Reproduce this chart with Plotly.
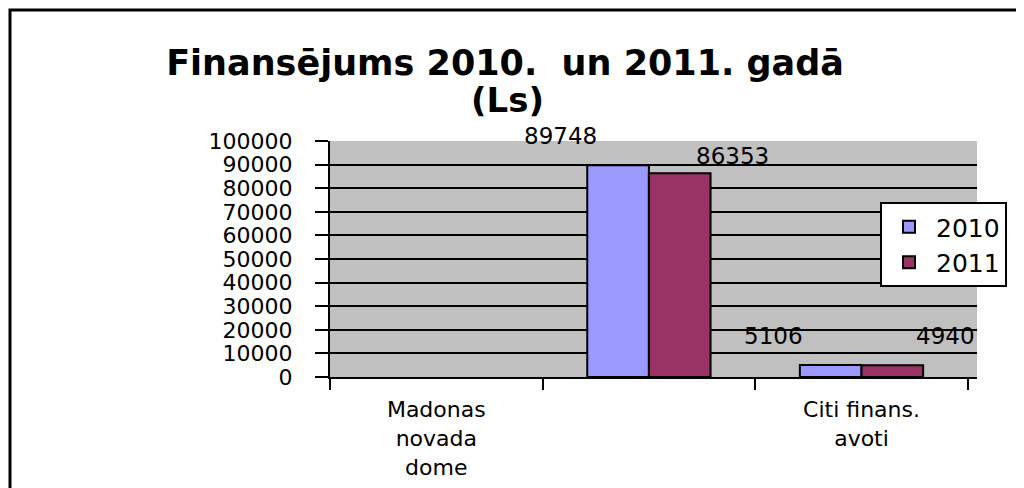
import plotly.graph_objects as go

# ---- data ----
categories = ["Madonas novada dome", " ", "Citi finans. avoti"]
tick_labels = ["Madonas<br>novada<br>dome", "", "Citi finans.<br>avoti"]
series_names = ["2010", "2011"]
values_2010 = [None, 89748, 5106]
values_2011 = [None, 86353, 4940]
y_ticks = [0, 10000, 20000, 30000, 40000, 50000, 60000, 70000, 80000, 90000, 100000]
title_line1 = "Finansējums 2010.  un 2011. gadā"
title_line2 = "(Ls)"

# ---- style ----
colors = ["#9999FF", "#993366"]
label_xshift = [-88, 84]
label_yshift = [[0, 14, 14], [0, 2, 14]]
FONT = "DejaVu Sans"

fig = go.Figure()
for i, (name, vals) in enumerate(zip(series_names, [values_2010, values_2011])):
    fig.add_trace(go.Bar(
        x=categories, y=vals, name=name, legendgroup=name,
        marker=dict(color=colors[i], line=dict(color="black", width=2)),
    ))

annotations = []
for i, vals in enumerate([values_2010, values_2011]):
    for j, (c, v) in enumerate(zip(categories, vals)):
        if v is None:
            continue
        annotations.append(dict(
            x=c, y=v, xref="x", yref="y", text=str(v), showarrow=False,
            xanchor="center", yanchor="bottom",
            xshift=label_xshift[i], yshift=label_yshift[i][j],
            font=dict(family=FONT, size=23, color="black"),
        ))

# second title line
annotations.append(dict(
    x=(499 - 322) / 647, y=(369 - 92) / 236, xref="paper", yref="paper",
    text="<b>" + title_line2 + "</b>", showarrow=False,
    xanchor="center", yanchor="middle",
    font=dict(family=FONT, size=34, color="black"),
))

fig.update_layout(
    width=1024, height=488,
    margin=dict(l=322, r=55, t=133, b=119),
    paper_bgcolor="white", plot_bgcolor="#C0C0C0",
    barmode="group", bargap=0.42, bargroupgap=0,
    title=dict(
        text="<b>" + title_line1 + "</b>",
        font=dict(family=FONT, size=35, color="black"),
        x=0.4854, xanchor="center", xref="container",
        y=1 - 55 / 488, yanchor="middle", yref="container",
    ),
    legend=dict(
        x=(872 - 322) / 647, y=(369 - 194) / 236, xanchor="left", yanchor="top",
        bgcolor="white", bordercolor="black", borderwidth=2,
        font=dict(family=FONT, size=25, color="black"),
        tracegroupgap=0, itemwidth=44,
    ),
    annotations=annotations,
    shapes=[dict(type="rect", xref="paper", yref="paper",
                 x0=(2 - 322) / 647, x1=1.2, y0=-1.0, y1=(369 - 2) / 236,
                 line=dict(color="black", width=3), fillcolor="rgba(0,0,0,0)")],
    xaxis=dict(
        type="category", tickson="boundaries",
        tickvals=categories, ticktext=tick_labels,
        ticks="outside", ticklen=11, tickwidth=2, tickcolor="black",
        showline=True, linecolor="black", linewidth=2,
        showgrid=False, ticklabelstandoff=12,
        tickfont=dict(family=FONT, size=22, color="black"),
    ),
    yaxis=dict(
        range=[0, 100000], tickvals=y_ticks,
        ticks="outside", ticklen=13, tickwidth=2, tickcolor="black",
        showline=True, linecolor="black", linewidth=2,
        showgrid=True, gridcolor="black", gridwidth=2,
        zeroline=False, ticklabelstandoff=18,
        tickfont=dict(family=FONT, size=22, color="black"),
        tickformat="d",
    ),
)

fig.write_html("out.html")
